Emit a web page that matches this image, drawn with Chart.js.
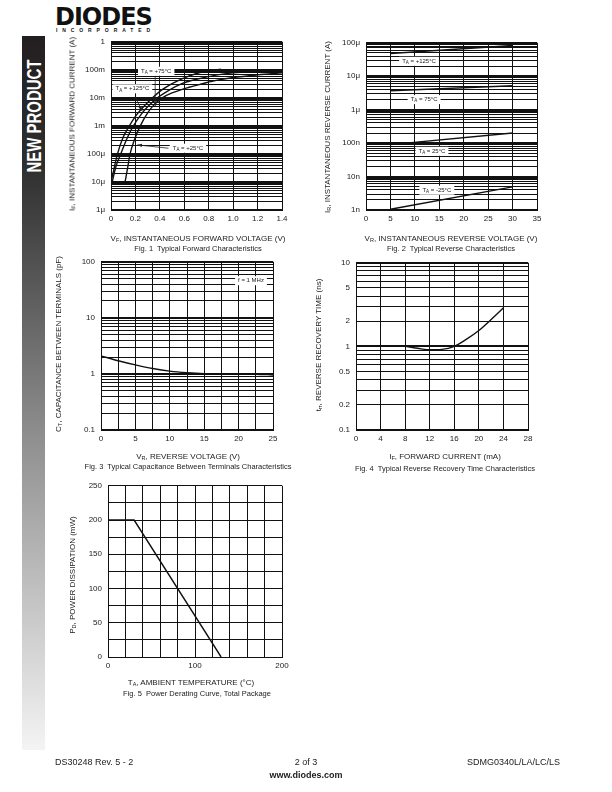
<!DOCTYPE html>
<html>
<head>
<meta charset="utf-8">
<title>SDMG0340L typical characteristics</title>
<script src="https://cdn.jsdelivr.net/npm/chart.js@4.4.1/dist/chart.umd.min.js"></script>
<style>
  body { margin: 0; width: 612px; height: 792px; position: relative; overflow: hidden; background: #fff;
         font-family: "Liberation Sans", Arial, sans-serif; color: #222; }
  canvas { position: absolute; }
  .lbl, .cap { position: absolute; width: 300px; margin-left: -150px; margin-top: -5px; line-height: 10px;
               text-align: center; white-space: nowrap; will-change: transform; }
  .lbl { font-size: 8px; }
  .cap { font-size: 7.5px; }
  .vlbl { position: absolute; font-size: 8px; white-space: nowrap; transform: translate(-50%, -50%) rotate(-90deg); }
  sub { font-size: 5.5px; vertical-align: -1px; line-height: 0; }
  #side { position: absolute; left: 22px; top: 36px; width: 23px; height: 714px;
          background: linear-gradient(#231f20 0%, #2e2e2e 18%, #8c8c8c 55%, #f4f4f4 100%); }
  #np { position: absolute; left: 11.5px; top: 80px; color: #fff; font: bold 21px "Liberation Sans", Arial, sans-serif;
        white-space: nowrap; transform: translate(-50%, -50%) rotate(-90deg) scaleX(0.71); }
  #logo { position: absolute; left: 55px; top: 3px; font: bold 24px "DejaVu Sans", sans-serif; letter-spacing: -1px; color: #111; }
  #inc { position: absolute; left: 56px; top: 27px; font-size: 5px; letter-spacing: 4.9px; color: #111; font-weight: bold; }
  .foot { position: absolute; font-size: 9px; line-height: 10px; margin-top: -5px; white-space: nowrap; color: #222; will-change: transform; }
  .mid { width: 200px; margin-left: -100px; text-align: center; }
</style>
</head>
<body>
<div id="logo">DIODES</div>
<div id="inc">INCORPORATED</div>
<div id="side"><span id="np">NEW PRODUCT</span></div>

<canvas id="fig1"></canvas>
<canvas id="fig2"></canvas>
<canvas id="fig3"></canvas>
<canvas id="fig4"></canvas>
<canvas id="fig5"></canvas>

<div class="vlbl" style="left:72px;top:124px">I<sub>F</sub>, INSTANTANEOUS FORWARD CURRENT (A)</div>
<div class="lbl" style="left:198px;top:239px">V<sub>F</sub>, INSTANTANEOUS FORWARD VOLTAGE (V)</div>
<div class="cap" style="left:198px;top:249px">Fig. 1&nbsp; Typical Forward Characteristics</div>

<div class="vlbl" style="left:327px;top:127px">I<sub>R</sub>, INSTANTANEOUS REVERSE CURRENT (A)</div>
<div class="lbl" style="left:451px;top:239px">V<sub>R</sub>, INSTANTANEOUS REVERSE VOLTAGE (V)</div>
<div class="cap" style="left:451px;top:249px">Fig. 2&nbsp; Typical Reverse Characteristics</div>

<div class="vlbl" style="left:58px;top:344px">C<sub>T</sub>, CAPACITANCE BETWEEN TERMINALS (pF)</div>
<div class="lbl" style="left:188px;top:457px">V<sub>R</sub>, REVERSE VOLTAGE (V)</div>
<div class="cap" style="left:188px;top:467px">Fig. 3&nbsp; Typical Capacitance Between Terminals Characteristics</div>

<div class="vlbl" style="left:318px;top:345px">t<sub>rr</sub>, REVERSE RECOVERY TIME (ns)</div>
<div class="lbl" style="left:445px;top:457px">I<sub>F</sub>, FORWARD CURRENT (mA)</div>
<div class="cap" style="left:445px;top:469px">Fig. 4&nbsp; Typical Reverse Recovery Time Characteristics</div>

<div class="vlbl" style="left:72px;top:575px">P<sub>D</sub>, POWER DISSIPATION (mW)</div>
<div class="lbl" style="left:191px;top:683px">T<sub>A</sub>, AMBIENT TEMPERATURE (°C)</div>
<div class="cap" style="left:197px;top:694px">Fig. 5&nbsp; Power Derating Curve, Total Package</div>

<div class="foot" style="left:55px;top:762px">DS30248 Rev. 5 - 2</div>
<div class="foot mid" style="left:306px;top:762px">2 of 3</div>
<div class="foot" style="right:52px;top:762px">SDMG0340L/LA/LC/LS</div>
<div class="foot mid" style="left:306px;top:775px;font-weight:bold">www.diodes.com</div>

<script>
// Fig. 1  forward characteristics (V, A)
const fwdV125 = [0, 0.025, 0.05, 0.1, 0.15, 0.2, 0.25, 0.3, 0.4, 0.5, 0.6, 0.7, 0.8, 0.9];
const fwdI125 = [1e-5, 3e-5, 9e-5, 4e-4, 1e-3, 2.2e-3, 4e-3, 6.8e-3, 1.7e-2, 3.2e-2, 5.2e-2, 7.4e-2, 9.2e-2, 1.05e-1];
const fwdV75 = [0.01, 0.04, 0.08, 0.13, 0.18, 0.25, 0.3, 0.38, 0.45, 0.58, 0.7, 0.86, 1.0, 1.2, 1.4];
const fwdI75 = [1e-5, 3.5e-5, 1e-4, 3.5e-4, 9.5e-4, 2.7e-3, 4.8e-3, 1e-2, 1.6e-2, 3.2e-2, 4.6e-2, 6.5e-2, 7.8e-2, 8.8e-2, 9.5e-2];
const fwdV25 = [0.115, 0.135, 0.156, 0.195, 0.24, 0.3, 0.35, 0.42, 0.5, 0.64, 0.75, 0.86, 1.0, 1.2, 1.4];
const fwdI25 = [1e-5, 3e-5, 1e-4, 3.5e-4, 1e-3, 2.9e-3, 5.5e-3, 1e-2, 1.5e-2, 2.4e-2, 3.2e-2, 4.2e-2, 5.3e-2, 6.6e-2, 7.8e-2];
const fwdYTicks = [1e-6, 1e-5, 1e-4, 1e-3, 1e-2, 1e-1, 1];
const fwdYLabels = ['1μ', '10μ', '100μ', '1m', '10m', '100m', '1'];

// Fig. 2  reverse characteristics (V, A)
const revV = [5, 30];
const revI125 = [4.8e-5, 8.3e-5];
const revI75 = [3.7e-6, 5.2e-6];
const revI25 = [9e-8, 2e-7];
const revIm25 = [1.05e-9, 4.9e-9];
const revYTicks = [1e-9, 1e-8, 1e-7, 1e-6, 1e-5, 1e-4];
const revYLabels = ['1n', '10n', '100n', '1μ', '10μ', '100μ'];

// Fig. 3  capacitance (V, pF)
const capV = [0, 2.5, 5, 7.5, 10, 12.5, 15, 17.5, 20, 22.5, 25];
const capC = [2.1, 1.72, 1.45, 1.25, 1.12, 1.05, 1.01, 1.0, 1.0, 0.99, 0.96];
const capYTicks = [0.1, 1, 10, 100];
const capYLabels = ['0.1', '1', '10', '100'];

// Fig. 4  reverse recovery time (mA, ns)
const trrI = [2, 4, 6, 8, 10, 12, 14, 16, 18, 20, 22, 24];
const trrT = [1.0, 1.01, 1.02, 1.0, 0.95, 0.91, 0.92, 1.0, 1.22, 1.55, 2.1, 2.9];
const trrYTicks = [0.1, 0.2, 0.5, 1, 2, 5, 10];
const trrYLabels = ['0.1', '0.2', '0.5', '1', '2', '5', '10'];

// Fig. 5  power derating (°C, mW)
const derT = [0, 30, 130];
const derP = [200, 200, 0];

const pts = (xs, ys) => xs.map((x, i) => ({ x: x, y: ys[i] }));

function labelFor(ticks, labels) {
  return v => {
    const i = ticks.findIndex(t => Math.abs(v / t - 1) < 1e-6);
    return i < 0 ? '' : labels[i];
  };
}

function isDecade(v) {
  const e = Math.log10(v);
  return Math.abs(e - Math.round(e)) < 1e-6;
}

// gridlines at 1..9 x 10^n
function logGrid(min, max) {
  const out = [];
  for (let e = Math.round(Math.log10(min)); e <= Math.round(Math.log10(max)); e++) {
    for (let m = 1; m <= 9; m++) {
      const v = m * Math.pow(10, e);
      if (v >= min * 0.999 && v <= max * 1.001) out.push({ value: v });
    }
  }
  return out;
}

const tickFont = { family: 'Liberation Sans', size: 8 };

function xAxis(min, max, step, cb) {
  return {
    type: 'linear', min: min, max: max,
    grid: { color: '#111', lineWidth: 1, drawTicks: false },
    border: { display: true, color: '#111', width: 1 },
    ticks: { stepSize: step, font: tickFont, color: '#222', autoSkip: false, maxRotation: 0, padding: 4, callback: cb },
    afterFit: s => { s.height = 22; }
  };
}

function logAxis(min, max, ticks, labels) {
  return {
    type: 'logarithmic', min: min, max: max,
    grid: { color: '#111', lineWidth: c => (c.tick && isDecade(c.tick.value) ? 2 : 1), drawTicks: false },
    border: { display: true, color: '#111', width: 1 },
    ticks: { font: tickFont, color: '#222', autoSkip: false, padding: 6, callback: labelFor(ticks, labels) },
    afterBuildTicks: s => { s.ticks = logGrid(min, max); },
    afterFit: s => { s.width = 45; }
  };
}

function linYAxis(min, max, step, cb) {
  return {
    type: 'linear', min: min, max: max,
    grid: { color: '#111', lineWidth: 1, drawTicks: false },
    border: { display: true, color: '#111', width: 1 },
    ticks: { stepSize: step, font: tickFont, color: '#222', autoSkip: false, padding: 6, callback: cb },
    afterFit: s => { s.width = 45; }
  };
}

// white boxed temperature notes and pointer arrows
const notePlugin = {
  id: 'notes',
  afterDatasetsDraw(chart, args, opts) {
    const ctx = chart.ctx, xs = chart.scales.x, ys = chart.scales.y;
    ctx.save();
    (opts.items || []).forEach(n => {
      if (n.arrow) {
        const a = n.arrow;
        const x1 = xs.getPixelForValue(a[0]), y1 = ys.getPixelForValue(a[1]);
        const x2 = xs.getPixelForValue(a[2]), y2 = ys.getPixelForValue(a[3]);
        ctx.strokeStyle = '#222'; ctx.lineWidth = 0.8;
        ctx.beginPath(); ctx.moveTo(x1, y1); ctx.lineTo(x2, y2); ctx.stroke();
        const ang = Math.atan2(y2 - y1, x2 - x1);
        ctx.fillStyle = '#222';
        ctx.beginPath();
        ctx.moveTo(x2, y2);
        ctx.lineTo(x2 - 5 * Math.cos(ang - 0.35), y2 - 5 * Math.sin(ang - 0.35));
        ctx.lineTo(x2 - 5 * Math.cos(ang + 0.35), y2 - 5 * Math.sin(ang + 0.35));
        ctx.closePath(); ctx.fill();
      }
    });
    (opts.items || []).forEach(n => {
      const px = xs.getPixelForValue(n.x), py = ys.getPixelForValue(n.y);
      const parts = n.sub ? [[n.sub[0], 6, 0], [n.sub[1], 4.5, 1.5], [n.sub[2], 6, 0]] : [[n.text, 6, 0]];
      let w = 0;
      parts.forEach(p => { ctx.font = p[1] + 'px "Liberation Sans"'; w += ctx.measureText(p[0]).width; });
      ctx.fillStyle = '#fff';
      ctx.fillRect(px - w / 2 - 3, py - 4.5, w + 6, 9);
      ctx.fillStyle = '#222'; ctx.textBaseline = 'middle'; ctx.textAlign = 'left';
      let cx = px - w / 2;
      parts.forEach(p => {
        ctx.font = p[1] + 'px "Liberation Sans"';
        ctx.fillText(p[0], cx, py + p[2]);
        cx += ctx.measureText(p[0]).width;
      });
    });
    ctx.restore();
  }
};

function curve(data, smooth) {
  return {
    data: data, borderColor: '#111', borderWidth: 1.4, pointRadius: 0, fill: false,
    cubicInterpolationMode: smooth ? 'monotone' : 'default', tension: 0
  };
}

function makeChart(id, area, xOpts, yOpts, datasets, notes) {
  const cv = document.getElementById(id);
  const W = area.r - area.l + 60, H = area.b - area.t + 30;
  cv.width = W; cv.height = H;
  cv.style.width = W + 'px'; cv.style.height = H + 'px';
  cv.style.left = (area.l - 45) + 'px'; cv.style.top = (area.t - 8) + 'px';
  return new Chart(cv, {
    type: 'line',
    data: { datasets: datasets },
    options: {
      responsive: false, animation: false, devicePixelRatio: 1,
      layout: { padding: { left: 0, top: 8, right: 15, bottom: 0 } },
      plugins: { legend: { display: false }, tooltip: { enabled: false }, notes: { items: notes || [] } },
      scales: { x: xOpts, y: yOpts }
    },
    plugins: [notePlugin]
  });
}

makeChart('fig1', { l: 111, t: 39, r: 282, b: 210 },
  xAxis(0, 1.4, 0.2, v => (v === 0 ? '0' : v.toFixed(1))),
  logAxis(1e-6, 1, fwdYTicks, fwdYLabels),
  [curve(pts(fwdV125, fwdI125), true), curve(pts(fwdV75, fwdI75), true), curve(pts(fwdV25, fwdI25), true)],
  [
    { x: 0.37, y: 0.089, sub: ['T', 'A', ' = +75°C'], arrow: [0.362, 0.072, 0.362, 5e-3] },
    { x: 0.175, y: 0.021, sub: ['T', 'A', ' = +125°C'], arrow: [0.198, 0.0108, 0.255, 3.4e-3] },
    { x: 0.63, y: 1.6e-4, sub: ['T', 'A', ' = +25°C'], arrow: [0.47, 1.6e-4, 0.215, 2.1e-4] }
  ]);

makeChart('fig2', { l: 366, t: 40, r: 537, b: 210 },
  xAxis(0, 35, 5, v => String(v)),
  logAxis(1e-9, 1e-4, revYTicks, revYLabels),
  [curve(pts(revV, revI125)), curve(pts(revV, revI75)), curve(pts(revV, revI25)), curve(pts(revV, revIm25))],
  [
    { x: 10.85, y: 2.8e-5, sub: ['T', 'A', ' = +125°C'] },
    { x: 11.9, y: 2e-6, sub: ['T', 'A', ' = 75°C'] },
    { x: 13.5, y: 5.7e-8, sub: ['T', 'A', ' = 25°C'] },
    { x: 14.5, y: 3.9e-9, sub: ['T', 'A', ' = -25°C'] }
  ]);

makeChart('fig3', { l: 101, t: 259, r: 273, b: 430 },
  xAxis(0, 25, 2.5, v => (v % 5 === 0 ? String(v) : '')),
  logAxis(0.1, 100, capYTicks, capYLabels),
  [curve(pts(capV, capC), true)],
  [{ x: 21.8, y: 46, text: 'f = 1 MHz' }]);

makeChart('fig4', { l: 356, t: 260, r: 528, b: 430 },
  xAxis(0, 28, 4, v => String(v)),
  logAxis(0.1, 10, trrYTicks, trrYLabels),
  [curve(pts(trrI, trrT), true)]);

makeChart('fig5', { l: 108, t: 483, r: 282, b: 657 },
  xAxis(0, 200, 20, v => (v % 100 === 0 ? String(v) : '')),
  linYAxis(0, 250, 25, v => (v % 50 === 0 ? String(v) : '')),
  [curve(pts(derT, derP))]);

// squeeze the sidebar caption to its printed length
const np = document.getElementById('np');
np.style.transform = 'translate(-50%, -50%) rotate(-90deg) scaleX(' + (113 / np.offsetWidth).toFixed(3) + ')';
</script>
</body>
</html>
